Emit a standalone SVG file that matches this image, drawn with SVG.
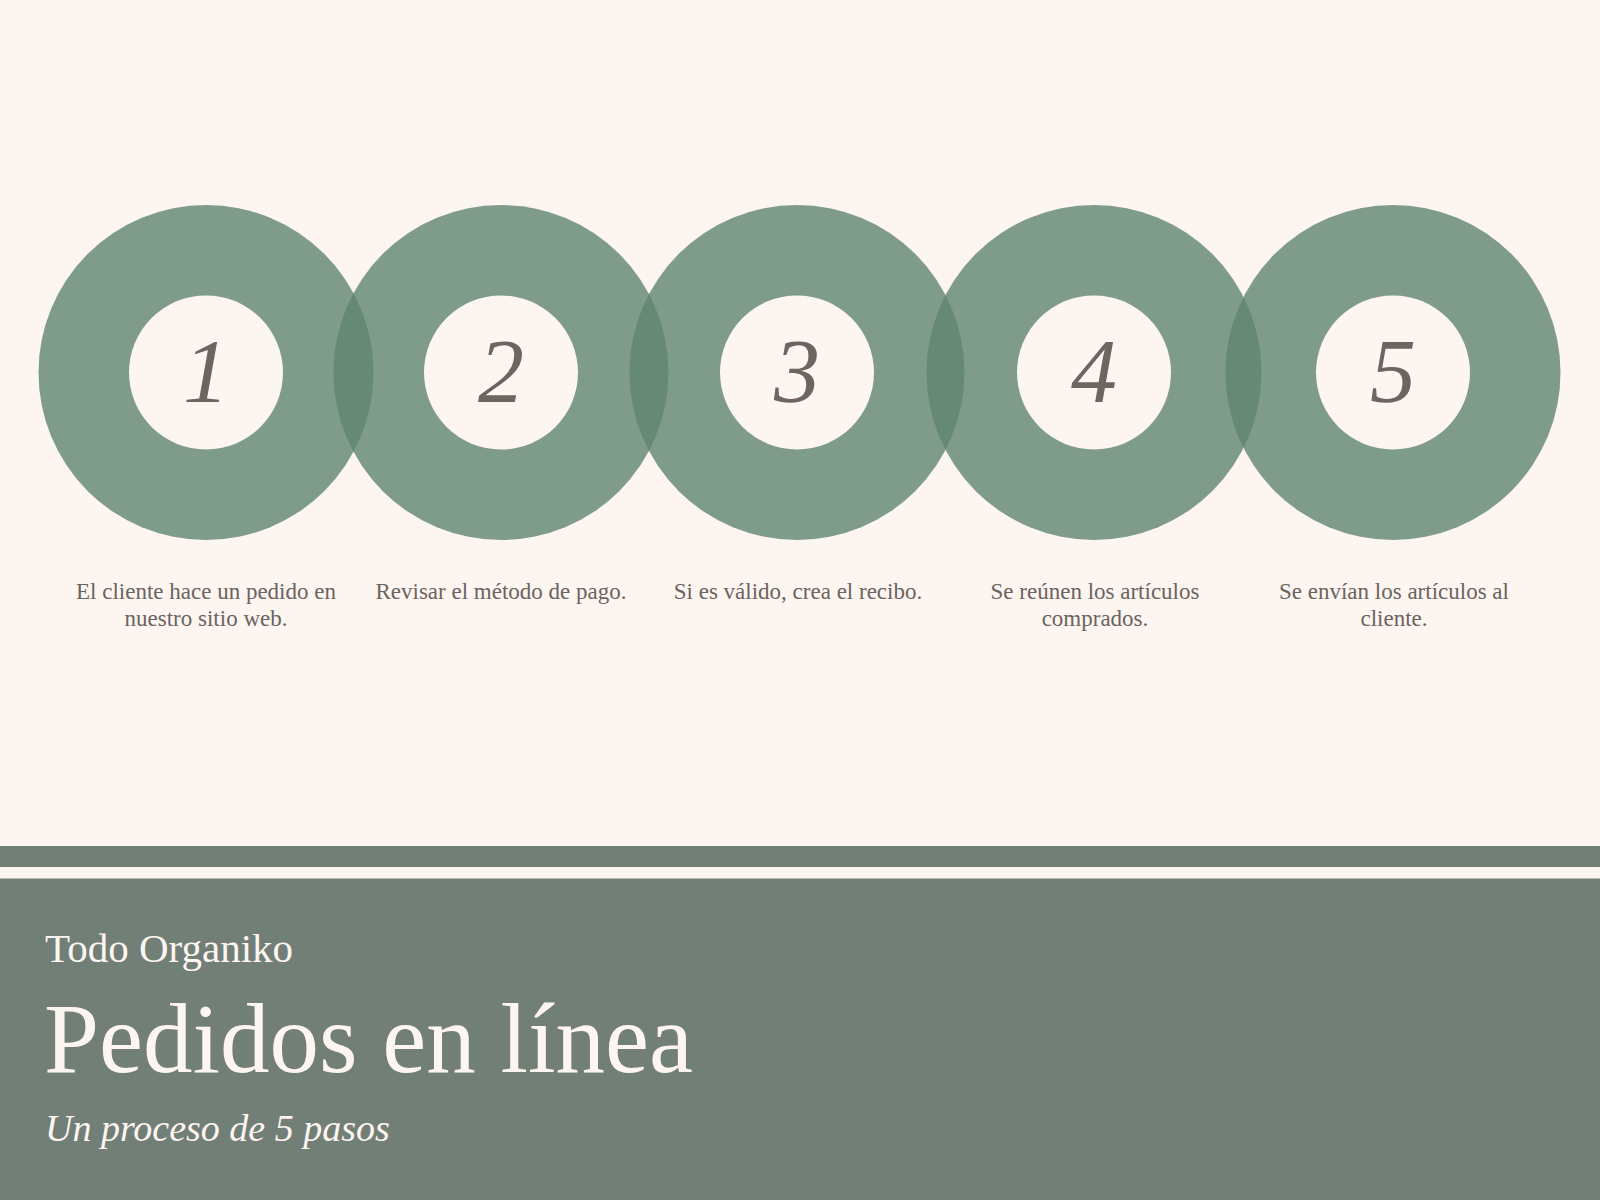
<svg xmlns="http://www.w3.org/2000/svg" width="1600" height="1200" viewBox="0 0 1600 1200">
<style>
.ring{fill:#5f8470;fill-opacity:0.8}
.hole{fill:#fdf5f0}
.num{font-family:"Liberation Serif",serif;font-style:italic;font-size:92px;fill:#6e6462;text-anchor:middle}
.desc{font-family:"Liberation Serif",serif;font-size:23px;fill:#6b6360;text-anchor:middle}
.band{fill:#727f77}
.light{font-family:"Liberation Serif",serif;fill:#fdf5f0}
</style>
<rect x="0" y="0" width="1600" height="1200" fill="#fdf5f0"/>
<g id="step1">
<circle class="ring" cx="206" cy="372.5" r="167.5"/>
<circle class="hole" cx="206" cy="372.5" r="77"/>
<text class="num" x="206" y="402">1</text>
<text class="desc" x="206" y="599">El cliente hace un pedido en</text>
<text class="desc" x="206" y="626">nuestro sitio web.</text>
</g>
<g id="step2">
<circle class="ring" cx="501" cy="372.5" r="167.5"/>
<circle class="hole" cx="501" cy="372.5" r="77"/>
<text class="num" x="501" y="402">2</text>
<text class="desc" x="501" y="599">Revisar el método de pago.</text>
</g>
<g id="step3">
<circle class="ring" cx="797" cy="372.5" r="167.5"/>
<circle class="hole" cx="797" cy="372.5" r="77"/>
<text class="num" x="797" y="402">3</text>
<text class="desc" x="798" y="599">Si es válido, crea el recibo.</text>
</g>
<g id="step4">
<circle class="ring" cx="1094" cy="372.5" r="167.5"/>
<circle class="hole" cx="1094" cy="372.5" r="77"/>
<text class="num" x="1094" y="402">4</text>
<text class="desc" x="1095" y="599">Se reúnen los artículos</text>
<text class="desc" x="1095" y="626">comprados.</text>
</g>
<g id="step5">
<circle class="ring" cx="1393" cy="372.5" r="167.5"/>
<circle class="hole" cx="1393" cy="372.5" r="77"/>
<text class="num" x="1393" y="402">5</text>
<text class="desc" x="1394" y="599">Se envían los artículos al</text>
<text class="desc" x="1394" y="626">cliente.</text>
</g>
<g id="connectors"></g>
<g id="footer">
<rect class="band" x="0" y="846" width="1600" height="21"/>
<rect class="band" x="0" y="878.5" width="1600" height="321.5"/>
<text class="light" x="45" y="962" font-size="41">Todo Organiko</text>
<text class="light" x="44" y="1072" font-size="99">Pedidos en línea</text>
<text class="light" x="45" y="1141" font-size="38" font-style="italic">Un proceso de 5 pasos</text>
</g>
</svg>
